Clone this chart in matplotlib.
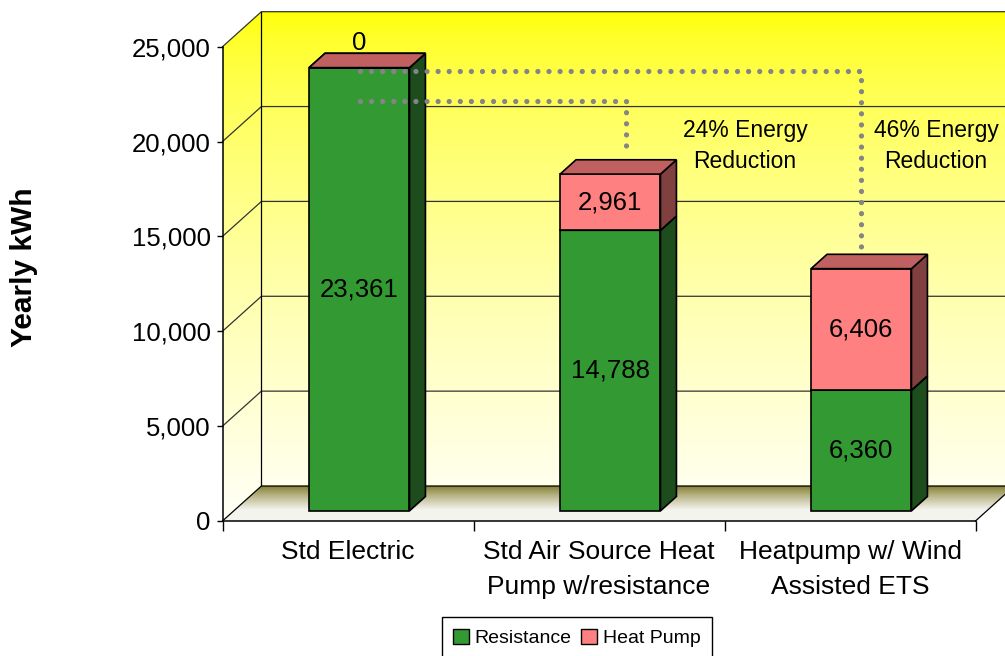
import matplotlib
matplotlib.use("Agg")
import matplotlib.pyplot as plt
import numpy as np
from matplotlib.patches import Polygon, Patch
from matplotlib.ticker import FuncFormatter

plt.rcParams['font.family'] = ['Liberation Sans', 'DejaVu Sans']

categories = ["Std Electric", "Std Air Source Heat\nPump w/resistance",
              "Heatpump w/ Wind\nAssisted ETS"]
resistance = [23361, 14788, 6360]
heat_pump = [0, 2961, 6406]
series_names = ["Resistance", "Heat Pump"]
y_ticks = [0, 5000, 10000, 15000, 20000, 25000]
notes = ["24% Energy\nReduction", "46% Energy\nReduction"]

# colours: front, side, top
face_cols = {"Resistance": ("#339933", "#1d4d1d", "#267326"),
             "Heat Pump": ("#ff8080", "#804040", "#c06060")}

# pseudo 3d depth offset (data units) and bar depth placement
DX, DY = 0.155, 1845
ZF, ZB = 0.29, 0.70
WIDTH = 0.4
YMAX = 25000


def pr(x, y, z):
    return (x + z * DX, y + z * DY)


fig = plt.figure(figsize=(10.05, 6.56), dpi=100)
ax = fig.add_axes([0, 0, 1, 1])
ax.set_xlim(-222.5 / 251, (1005 - 222.5) / 251)
ax.set_ylim(-(656 - 521) / 0.018972, 521 / 0.018972)
ax.set_facecolor("white")

# walls with vertical yellow gradient
ncat = len(categories)
grad = np.linspace(0, 1, 256) ** 0.6
wall_img = np.ones((256, 1, 3))
wall_img[:, 0, 2] = grad * 0.97
wall_ext = (0, ncat + DX, 0, YMAX + DY)
back = Polygon([pr(0, 0, 1), pr(ncat, 0, 1), pr(ncat, YMAX, 1), pr(0, YMAX, 1)],
               closed=True, facecolor="none", edgecolor="none")
side = Polygon([pr(0, 0, 0), pr(0, 0, 1), pr(0, YMAX, 1), pr(0, YMAX, 0)],
               closed=True, facecolor="none", edgecolor="none")
for poly in (back, side):
    ax.add_patch(poly)
    im = ax.imshow(wall_img, extent=wall_ext, origin="upper", aspect="auto",
                   zorder=0.5, interpolation="bilinear")
    im.set_clip_path(poly)

# floor with olive gradient
t = np.linspace(0, 1, 256)
c_back = np.array([0.48, 0.45, 0.12])
c_front = np.array([0.96, 0.96, 0.94])
mix = np.clip(t / 0.7, 0, 1)[:, None] ** 0.8
floor_img = (c_back * (1 - mix) + c_front * mix)[:, None, :]
floor = Polygon([pr(0, 0, 0), pr(ncat, 0, 0), pr(ncat, 0, 1), pr(0, 0, 1)],
                closed=True, facecolor="none", edgecolor="none")
ax.add_patch(floor)
im = ax.imshow(floor_img, extent=(0, ncat + DX, 0, DY), origin="upper",
               aspect="auto", zorder=1.5, interpolation="bilinear")
im.set_clip_path(floor)

# grid lines on walls
for v in y_ticks[1:]:
    xs = [0, DX, ncat + DX]
    ys = [v, v + DY, v + DY]
    ax.plot(xs, ys, color="#333333", lw=0.9, zorder=1)
ax.plot([DX, DX], [DY, YMAX + DY], color="black", lw=0.9, zorder=1)
ax.plot([0, DX, ncat + DX], [0, DY, DY], color="black", lw=0.9, zorder=2)
ax.plot([ncat, ncat + DX], [0, DY], color="black", lw=0.9, zorder=2)

# stacked pseudo-3d bars
for i in range(ncat):
    x0 = i + 0.5 - WIDTH / 2
    x1 = i + 0.5 + WIDTH / 2
    bottom = 0
    for name, vals in zip(series_names, [resistance, heat_pump]):
        v = vals[i]
        top = bottom + v
        front, sidec, topc = face_cols[name]
        kw = dict(closed=True, edgecolor="black", lw=1.2, zorder=3,
                  joinstyle="miter")
        ax.add_patch(Polygon([pr(x0, bottom, ZF), pr(x1, bottom, ZF),
                              pr(x1, top, ZF), pr(x0, top, ZF)],
                             facecolor=front, **kw))
        ax.add_patch(Polygon([pr(x1, bottom, ZF), pr(x1, bottom, ZB),
                              pr(x1, top, ZB), pr(x1, top, ZF)],
                             facecolor=sidec, **kw))
        ax.add_patch(Polygon([pr(x0, top, ZF), pr(x1, top, ZF),
                              pr(x1, top, ZB), pr(x0, top, ZB)],
                             facecolor=topc, **kw))
        lx, ly = pr(i + 0.5, (bottom + top) / 2, ZF)
        if v == 0:
            ly = top + ZF * DY + 1300
        ax.text(lx, ly, f"{v:,}", ha="center", va="center",
                fontsize=18.5, zorder=6)
        bottom = top

# dotted connectors for the reductions
dot = dict(color="#858585", lw=3.8, linestyle=(0, (0.001, 2.1)),
           dash_capstyle="round", solid_capstyle="round", zorder=5)
ax.plot([0.548, 2.543, 2.543], [23735, 23735, 14442], **dot)
ax.plot([0.548, 1.608, 1.608], [22164, 22164, 19713], **dot)
ax.text(2.082, 19750, notes[0], ha="center", va="center", fontsize=16.5,
        linespacing=1.45, zorder=6)
ax.text(2.843, 19750, notes[1], ha="center", va="center", fontsize=16.5,
        linespacing=1.45, zorder=6)

# axes
for s in ("top", "right"):
    ax.spines[s].set_visible(False)
ax.spines["left"].set_position(("data", 0))
ax.spines["bottom"].set_position(("data", 0))
ax.spines["left"].set_bounds(0, YMAX)
ax.spines["bottom"].set_bounds(0, ncat)
for s in ("left", "bottom"):
    ax.spines[s].set_linewidth(1.1)
    ax.spines[s].set_zorder(4)
ax.set_yticks(y_ticks)
ax.yaxis.set_major_formatter(FuncFormatter(lambda v, p: f"{int(v):,}"))
ax.tick_params(axis="y", labelsize=18.5, length=4.5, width=1, pad=4)
ax.set_xticks(range(ncat + 1))
ax.set_xticklabels([])
ax.set_xticks([i + 0.5 for i in range(ncat)], minor=True)
ax.set_xticklabels(categories, minor=True, fontsize=19, linespacing=1.58)
ax.tick_params(axis="x", which="major", length=7, width=1)
ax.tick_params(axis="x", which="minor", length=0, pad=14)

fig.text(0.024, 0.593, "Yearly kWh", rotation=90, ha="center", va="center",
         fontsize=21.5, fontweight="bold")

handles = [Patch(facecolor=face_cols[n][0], edgecolor="black", lw=1)
           for n in series_names]
fig.legend(handles, series_names, loc="upper center",
           bbox_to_anchor=(0.574, 0.074), ncol=2, fontsize=14,
           handlelength=0.8, handleheight=0.8, handletextpad=0.3,
           columnspacing=0.5, borderpad=0.6, fancybox=False,
           edgecolor="black", framealpha=1)

fig.savefig("out.png", dpi=100)
